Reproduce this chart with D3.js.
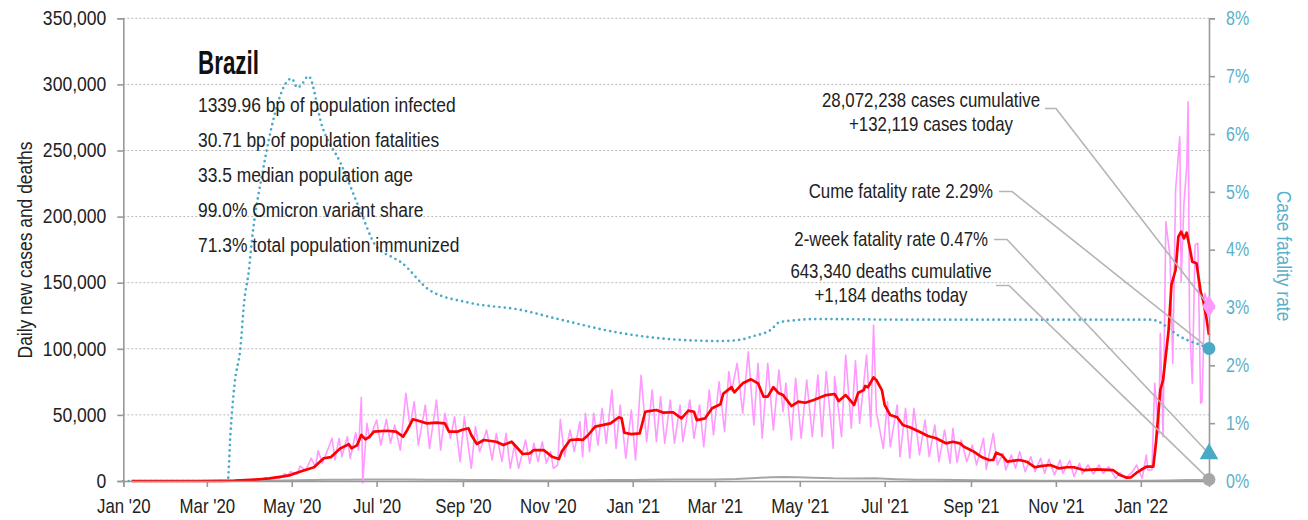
<!DOCTYPE html>
<html>
<head>
<meta charset="utf-8">
<script src="https://cdn.jsdelivr.net/npm/d3@7/dist/d3.min.js"></script>
<style>
  html, body { margin: 0; padding: 0; background: #fff; }
  svg { display: block; }
  text { font-family: "Liberation Sans", Arial, sans-serif; }
</style>
</head>
<body>
<svg id="chart" width="1308" height="520"></svg>
<script>
// ---- data ---------------------------------------------------------------
// Day offsets are counted from seriesStart.
const seriesStart = "2020-01-01";
const lastDay = 780;

// Daily new cases: [day, cases]
const dailyCases = [
  [6,0],[55,0],[62,2],[70,50],[76,200],[80,400],[84,500],[88,1100],[91,600],[95,1600],
  [98,1000],[102,2500],[105,1500],[109,3000],[112,2000],[116,5500],[118,3500],[120,7000],
  [125,5300],[127,11300],[131,7800],[135,17200],[138,10400],[140,22900],[143,13400],
  [147,24000],[150,32300],[152,15900],[155,32300],[157,18400],[161,33500],[163,17200],
  [167,36500],[169,23400],[171,63300],[172,-1500],[175,43600],[177,32300],[182,46100],
  [185,27200],[189,46700],[192,28500],[195,42400],[199,23400],[203,66300],[206,41100],
  [209,60000],[212,27200],[217,57500],[220,24700],[225,61300],[228,23400],[231,51200],
  [235,32300],[238,48600],[242,14600],[245,48600],[250,9600],[253,41100],[256,22200],
  [261,38600],[265,15900],[268,36000],[272,14600],[275,36000],[278,9600],[281,27200],
  [284,9600],[289,31000],[292,13400],[295,28500],[298,14600],[301,29700],[304,13400],
  [307,22200],[309,9600],[312,12100],[314,46700],[317,18400],[321,38600],[324,22200],
  [328,44900],[330,18400],[332,51200],[335,22200],[338,51200],[341,27200],[344,55000],
  [347,28500],[351,68800],[354,24700],[357,57500],[361,17200],[365,53700],[368,15900],
  [372,80000],[376,29700],[380,68800],[383,29700],[386,63800],[389,28500],[393,61300],
  [396,28500],[400,57500],[402,29700],[407,61300],[410,32300],[414,57500],[417,25900],
  [421,68800],[424,34800],[428,75100],[432,37300],[435,82700],[437,68000],[441,89000],
  [445,51200],[449,97800],[453,42400],[456,89000],[459,32300],[463,89000],[467,38600],
  [471,84000],[474,52400],[476,73900],[480,31000],[483,77700],[487,32300],[491,76400],
  [495,33500],[499,80200],[502,33500],[505,82700],[510,24700],[511,78900],[516,33500],
  [519,95300],[523,39900],[526,91000],[529,43600],[534,95300],[537,41100],[539,118000],
  [541,52400],[546,24700],[549,60000],[551,25900],[556,57500],[558,18400],[562,55000],
  [565,17200],[568,55000],[572,19700],[576,46100],[579,18400],[583,42400],[586,14600],
  [590,38600],[594,13400],[596,39900],[599,14000],[602,31000],[606,14600],[610,27200],
  [613,12100],[618,32300],[620,8800],[625,36000],[628,12100],[632,20900],[634,8300],
  [638,19700],[641,9600],[644,22200],[648,7000],[652,18400],[655,7000],[659,17200],
  [662,5800],[665,16400],[669,4500],[673,15900],[675,5800],[680,15400],[683,3300],
  [687,13400],[689,5300],[693,12100],[697,5300],[701,12100],[704,5800],[708,10800],
  [713,2000],[716,6300],[720,2000],[725,7000],[728,12100],[732,2000],[735,19700],
  [736,8300],[739,8300],[741,73900],[744,36000],[745,111700],[747,33500],[749,196100],
  [752,169600],[754,89000],[756,220100],[759,260400],[760,150800],[762,210000],
  [764,237700],[765,286900],[766,119300],[768,73900],[770,178500],[772,179800],
  [774,58800],[775,60000],[777,142000],[780,132119]
];

// Seven-day average of new cases: [day, cases]
const avgCases = [
  [6,0],[55,0],[70,30],[80,250],[88,700],[95,1100],[100,1500],[105,2000],[110,2800],
  [115,3500],[120,4500],[129,7800],[137,10400],[144,17200],[149,18000],[156,24700],
  [162,27800],[164,24700],[168,27200],[171,34800],[174,31500],[177,33500],[180,37300],
  [189,38000],[196,37300],[201,33500],[204,38600],[208,46700],[212,45600],[218,43600],
  [225,44100],[231,43600],[234,37300],[240,37300],[243,38600],[248,39900],[250,34800],
  [254,28000],[259,31000],[268,29700],[273,27200],[279,29700],[287,20400],[292,20900],
  [295,23400],[302,23400],[308,18400],[313,16600],[315,22200],[321,31000],[327,31500],
  [330,31000],[334,34800],[339,41100],[345,42400],[350,43600],[356,48200],[358,47400],
  [360,36500],[365,35500],[371,36000],[375,52400],[380,53200],[383,53700],[388,51700],
  [395,52000],[401,47400],[406,53200],[410,52400],[412,46100],[418,47400],[423,55000],
  [429,58000],[431,66000],[437,71000],[439,67000],[445,73900],[451,76900],[456,73900],
  [460,63800],[463,63800],[467,70900],[471,66300],[474,65000],[480,56700],[485,60000],
  [490,59200],[496,61300],[505,65000],[511,65800],[514,60500],[519,65000],[522,61300],
  [525,57500],[528,66800],[532,68800],[533,71900],[535,70900],[539,78400],[541,76400],
  [545,68800],[547,57500],[551,49900],[556,48200],[560,42400],[565,40600],[572,37300],
  [578,34000],[584,32300],[591,28500],[596,29700],[601,28500],[604,25900],[611,22200],
  [617,17900],[622,15900],[625,15900],[627,21400],[631,19700],[635,14600],[644,15900],
  [649,14600],[655,10400],[659,11300],[666,12100],[672,9600],[678,10400],[683,10400],
  [690,8300],[699,8800],[711,8300],[716,4500],[721,2500],[724,2800],[728,6300],
  [731,8300],[735,10800],[740,10800],[742,30000],[745,68800],[747,76400],[751,114200],
  [753,148300],[756,159600],[758,184800],[760,188600],[762,183600],[764,187800],
  [766,177200],[768,165900],[771,164700],[774,143200],[776,135600],[778,124300],
  [780,110400]
];

// Seven-day average of new deaths: [day, deaths]
const avgDeaths = [
  [6,0],[75,0],[85,30],[95,100],[105,250],[115,450],[125,650],[135,850],[145,900],
  [160,1000],[175,1050],[190,1050],[205,1050],[220,1000],[235,950],[250,800],[265,700],
  [280,600],[295,450],[310,400],[320,500],[335,600],[350,700],[365,750],[380,1000],
  [395,1050],[410,1050],[425,1100],[440,1500],[455,2300],[465,2900],[475,3100],
  [485,2900],[495,2500],[510,2000],[525,1900],[540,2000],[555,1400],[570,1000],
  [585,900],[600,700],[615,550],[630,450],[645,350],[660,250],[675,230],[690,200],
  [705,120],[720,100],[735,150],[750,400],[765,700],[775,850],[780,1184]
];

// Cumulative case fatality rate, percent: [day, rate]
const caseFatality = [
  [0,0],[75,0],[77,0.83],[80,1.69],[84,2.27],[87,3.13],[90,3.6],[93,4.29],[100,5.33],
  [109,6.36],[115,6.8],[121,6.96],[125,6.8],[128,6.85],[133,7.0],[143,6.12],[156,5.5],
  [170,4.69],[181,4.08],[194,3.86],[199,3.79],[220,3.3],[249,3.08],[285,2.96],[314,2.79],
  [357,2.56],[400,2.44],[429,2.42],[443,2.44],[452,2.5],[465,2.61],[472,2.75],[500,2.8],
  [558,2.79],[630,2.79],[700,2.79],[738,2.79],[745,2.74],[752,2.62],[759,2.5],
  [766,2.42],[774,2.35],[780,2.29]
];

const casesTicks = [0, 50000, 100000, 150000, 200000, 250000, 300000, 350000];
const rateTicks = [0, 1, 2, 3, 4, 5, 6, 7, 8];

const country = "Brazil";
const facts = [
  "1339.96 bp of population infected",
  "30.71 bp of population fatalities",
  "33.5 median population age",
  "99.0% Omicron variant share",
  "71.3% total population immunized"
];

const casesCumulative = 28072238;
const casesToday = 132119;
const deathsCumulative = 643340;
const deathsToday = 1184;
const cumeFatalityRate = 2.29;
const twoWeekFatalityRate = 0.47;

// ---- layout -------------------------------------------------------------
const W = 1308, H = 520;
const margin = { top: 18.3, right: 99, bottom: 39, left: 123.3 };
const innerW = W - margin.left - margin.right;
const innerH = H - margin.top - margin.bottom;

const pink = "#ff99ff", red = "#ff0000", blue = "#4aaac6", grey = "#a6a6a6", axisGrey = "#999";
const ink = "#222", rateInk = "#5ab0c9";

const start = d3.isoParse(seriesStart + "T00:00:00");
const dayDate = d => d3.timeDay.offset(start, d);

const x = d3.scaleTime().domain([start, dayDate(lastDay)]).range([0, innerW]);
const y = d3.scaleLinear().domain([0, 350000]).range([innerH, 0]);
const yRate = d3.scaleLinear().domain([0, 8]).range([innerH, 0]);

const svg = d3.select("#chart");
const g = svg.append("g").attr("transform", `translate(${margin.left},${margin.top})`);

// condensed text: horizontally squeezed around its anchor point
function label(parent, px, py, str, o) {
  return parent.append("text")
    .attr("transform", `translate(${px},${py})${o.rotate ? ` rotate(${o.rotate})` : ""} scale(${o.sx},1)`)
    .attr("text-anchor", o.anchor || "start")
    .style("font-size", o.size + "px")
    .style("font-weight", o.weight || "normal")
    .attr("fill", o.fill || ink)
    .text(str);
}

// gridlines
g.append("g").selectAll("line").data(casesTicks.slice(1)).join("line")
  .attr("x1", 0).attr("x2", innerW)
  .attr("y1", d => y(d)).attr("y2", d => y(d))
  .attr("stroke", "#b8b8b8").attr("stroke-width", 1).attr("stroke-dasharray", "2,2");

// series
const lineCases = d3.line().x(d => x(dayDate(d[0]))).y(d => y(d[1]));
const lineRate = d3.line().x(d => x(dayDate(d[0]))).y(d => yRate(d[1])).curve(d3.curveMonotoneX);

g.append("path").datum(avgDeaths).attr("d", lineCases)
  .attr("fill", "none").attr("stroke", grey).attr("stroke-width", 2);

g.append("path").datum(dailyCases).attr("d", lineCases)
  .attr("fill", "none").attr("stroke", pink).attr("stroke-width", 1.6)
  .attr("stroke-linejoin", "round");

g.append("path").datum(caseFatality).attr("d", lineRate)
  .attr("fill", "none").attr("stroke", blue).attr("stroke-width", 2.7)
  .attr("stroke-linecap", "round").attr("stroke-dasharray", "0,5.4");

g.append("path").datum(avgCases).attr("d", lineCases)
  .attr("fill", "none").attr("stroke", red).attr("stroke-width", 2.7)
  .attr("stroke-linejoin", "round");

// axes
const xAxis = d3.axisBottom(x)
  .tickValues(d3.timeMonth.every(2).range(start, dayDate(lastDay)))
  .tickFormat(d3.timeFormat("%b '%y")).tickSize(6).tickPadding(11);
const gx = g.append("g").attr("transform", `translate(0,${innerH})`).call(xAxis);

const yAxis = d3.axisLeft(y).tickValues(casesTicks).tickFormat(d3.format(",")).tickSize(6).tickPadding(11);
const gy = g.append("g").call(yAxis);

const yAxisR = d3.axisRight(yRate).tickValues(rateTicks).tickFormat(d => d + "%").tickSize(6).tickPadding(11);
const gyr = g.append("g").attr("transform", `translate(${innerW},0)`).call(yAxisR);

function styleAxis(a, size, sx, fill) {
  a.select(".domain").attr("stroke", axisGrey).attr("stroke-width", 1.6);
  a.selectAll(".tick line").attr("stroke", axisGrey).attr("stroke-width", 1.6);
  a.selectAll(".tick text").each(function () {
    const t = d3.select(this);
    const x0 = +(t.attr("x") || 0);
    t.attr("x", x0 / sx).attr("transform", `scale(${sx},1)`)
      .style("font-size", size + "px").attr("fill", fill);
  });
}
styleAxis(gx, 20.5, 0.82, ink);
styleAxis(gy, 19.5, 0.9, ink);
styleAxis(gyr, 19.5, 0.82, rateInk);

// axis titles
label(svg, 32, 250, "Daily new cases and deaths", { size: 20.5, sx: 0.85, anchor: "middle", rotate: -90 });
label(svg, 1277, 256, "Case fatality rate", { size: 20.5, sx: 0.85, anchor: "middle", rotate: 90, fill: rateInk });

// country and facts
svg.append("text").attr("x", 198).attr("y", 74)
  .style("font-size", "33px").style("font-weight", "bold").attr("fill", "#111")
  .attr("textLength", 61).attr("lengthAdjust", "spacingAndGlyphs")
  .text(country);
const factsG = svg.append("g");
facts.forEach((s, i) => label(factsG, 198, 111.5 + i * 35, s, { size: 21, sx: 0.83 }));

// end markers
const mx = margin.left + x(dayDate(lastDay));
const markers = [
  { y: margin.top + y(casesToday), shape: d3.symbolDiamond, size: 150, color: pink },
  { y: margin.top + yRate(cumeFatalityRate), shape: d3.symbolCircle, size: 130, color: blue },
  { y: margin.top + yRate(twoWeekFatalityRate), shape: d3.symbolTriangle, size: 150, color: blue },
  { y: margin.top + y(deathsToday), shape: d3.symbolCircle, size: 130, color: grey }
];

// annotations with leader lines
const fmt = d3.format(",");
const notes = [
  { lines: [`${fmt(casesCumulative)} cases cumulative`, `+${fmt(casesToday)} cases today`],
    anchor: "middle", tx: 931, ty: 106.5, lx: 1045, ly: 108.5, bend: 1056, target: 0 },
  { lines: [`Cume fatality rate ${cumeFatalityRate.toFixed(2)}%`],
    anchor: "end", tx: 993, ty: 198, lx: 999, ly: 191.5, bend: 1012, target: 1 },
  { lines: [`2-week fatality rate ${twoWeekFatalityRate.toFixed(2)}%`],
    anchor: "end", tx: 988, ty: 245.5, lx: 994, ly: 239.5, bend: 1007, target: 2 },
  { lines: [`${fmt(deathsCumulative)} deaths cumulative`, `+${fmt(deathsToday)} deaths today`],
    anchor: "middle", tx: 891, ty: 278, lx: 996, ly: 285.5, bend: 1009, target: 3 }
];

const ann = svg.append("g");
notes.forEach(n => {
  ann.append("polyline")
    .attr("points", [[n.lx, n.ly], [n.bend, n.ly], [mx, markers[n.target].y]].map(p => p.join(",")).join(" "))
    .attr("fill", "none").attr("stroke", "#b5b5b5").attr("stroke-width", 1.6);
  n.lines.forEach((s, i) => label(ann, n.tx, n.ty + i * 24, s, { size: 20.3, sx: 0.83, anchor: n.anchor }));
});

svg.append("g").selectAll("path").data(markers).join("path")
  .attr("transform", d => `translate(${mx},${d.y})`)
  .attr("d", d => d3.symbol().type(d.shape).size(d.size)())
  .attr("fill", d => d.color);
</script>
</body>
</html>
